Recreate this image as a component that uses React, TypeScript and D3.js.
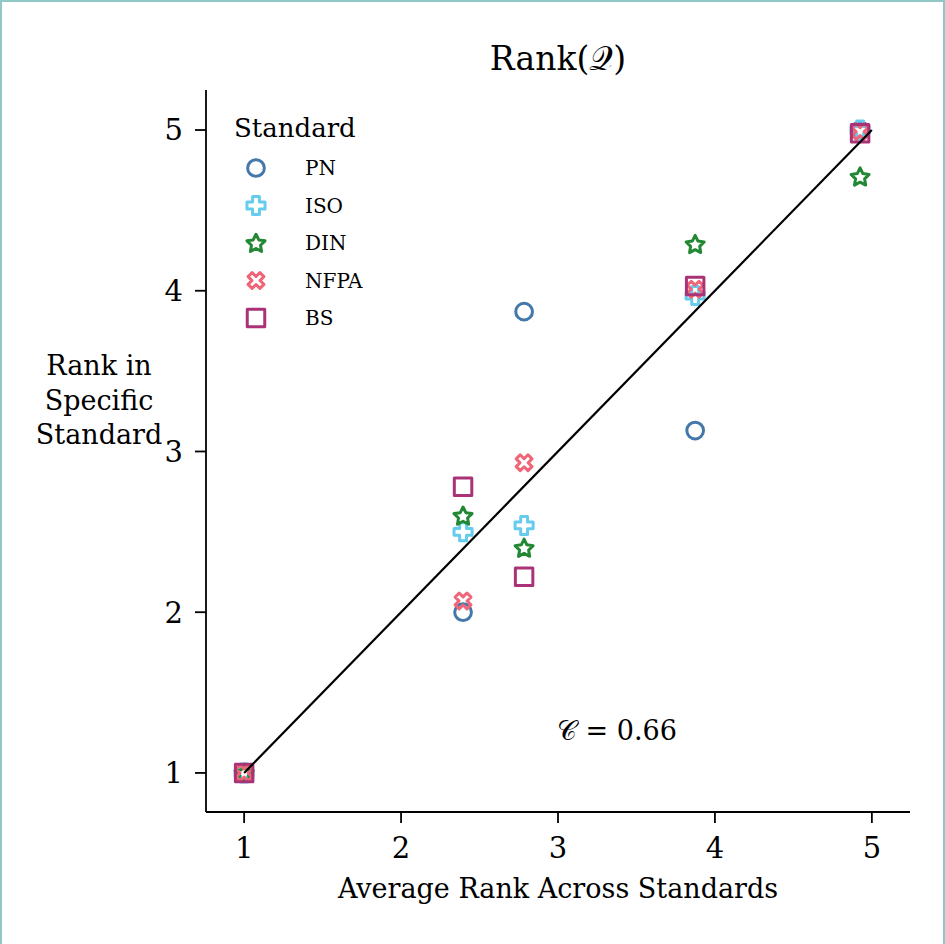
import React from "react";
import * as d3 from "d3";

const avgRank = [1, 2.395, 2.784, 3.874, 4.925];
const standards = ["PN", "ISO", "DIN", "NFPA", "BS"];
const rankPN = [1, 2.0, 3.87, 3.13, 5.0];
const rankISO = [1, 2.5, 2.54, 3.97, 5.0];
const rankDIN = [1, 2.6, 2.4, 4.29, 4.71];
const rankNFPA = [1, 2.07, 2.93, 4.01, 4.99];
const rankBS = [1, 2.78, 2.22, 4.03, 4.98];
const xTicks = [1, 2, 3, 4, 5];
const yTicks = [1, 2, 3, 4, 5];
const corr = "0.66";

const colors = ["#4477aa", "#66ccee", "#228833", "#ee6677", "#aa3377"];
const shapes = ["circle", "plus", "star", "x", "square"];
const series = [rankPN, rankISO, rankDIN, rankNFPA, rankBS];

const FONT = "'DejaVu Serif', serif";

function markerPath(shape: string, s: number): string {
  if (shape === "circle") {
    const p = d3.path();
    p.arc(0, 0, s * 0.88, 0, Math.PI * 2);
    return p.toString();
  }
  if (shape === "square") {
    const h = s * 0.92;
    return `M${-h},${-h}H${h}V${h}H${-h}Z`;
  }
  if (shape === "plus") {
    const a = s * 0.95, w = s * 0.36;
    return `M${-w},${-a}H${w}V${-w}H${a}V${w}H${w}V${a}H${-w}V${w}H${-a}V${-w}H${-w}Z`;
  }
  if (shape === "x") {
    const a = s * 0.88, w = s * 0.3;
    const pts: [number, number][] = [];
    const plus: [number, number][] = [
      [-w, -a], [w, -a], [w, -w], [a, -w], [a, w], [w, w], [w, a], [-w, a], [-w, w], [-a, w], [-a, -w], [-w, -w],
    ];
    const c = Math.cos(Math.PI / 4), sn = Math.sin(Math.PI / 4);
    for (const [px, py] of plus) pts.push([px * c - py * sn, px * sn + py * c]);
    return "M" + pts.map((p) => p.join(",")).join("L") + "Z";
  }
  if (shape === "star") {
    const R = s * 1.0, r = R * 0.5;
    const pts: string[] = [];
    for (let i = 0; i < 10; i++) {
      const ang = -Math.PI / 2 + (i * Math.PI) / 5;
      const rad = i % 2 === 0 ? R : r;
      pts.push(`${rad * Math.cos(ang)},${rad * Math.sin(ang) + s * 0.08}`);
    }
    return "M" + pts.join("L") + "Z";
  }
  return "";
}

export default function App() {
  const W = 945, H = 944;
  const x = d3.scaleLinear().domain([0.757, 5.243]).range([206, 910]);
  const y = d3.scaleLinear().domain([0.757, 5.249]).range([812, 90]);
  const ms = 9.5;
  const sw = 3;
  const line = d3.line<number>().x((d) => x(d)).y((d) => y(d));

  return (
    <svg width={W} height={H} style={{ position: "absolute", left: 0, top: 0, background: "#fff" }} fontFamily={FONT}>
      <rect x={0} y={0} width={W} height={H} fill="#fff" />
      <line x1={0} y1={1} x2={W} y2={1} stroke="#90c8c8" strokeWidth={2} />
      <line x1={1} y1={0} x2={1} y2={H} stroke="#90c8c8" strokeWidth={2} />
      <line x1={W - 1} y1={0} x2={W - 1} y2={H} stroke="#90c8c8" strokeWidth={2} />

      <line x1={x.range()[0]} y1={y.range()[0]} x2={x.range()[1]} y2={y.range()[0]} stroke="#000" strokeWidth={1.8} />
      <line x1={x.range()[0]} y1={y.range()[0]} x2={x.range()[0]} y2={y.range()[1]} stroke="#000" strokeWidth={1.8} />

      {xTicks.map((t) => (
        <g key={"xt" + t}>
          <line x1={x(t)} x2={x(t)} y1={y.range()[0]} y2={y.range()[0] + 11} stroke="#000" strokeWidth={1.8} />
          <text x={x(t)} y={858} textAnchor="middle" fontSize={29}>{t}</text>
        </g>
      ))}
      {yTicks.map((t) => (
        <g key={"yt" + t}>
          <line x1={x.range()[0] - 11} x2={x.range()[0]} y1={y(t)} y2={y(t)} stroke="#000" strokeWidth={1.8} />
          <text x={183} y={y(t)} dy="0.36em" textAnchor="end" fontSize={29}>{t}</text>
        </g>
      ))}

      {series.map((vals, si) => (
        <g key={"s" + si}>
          {vals.map((v, i) => (
            <path key={i} d={markerPath(shapes[si], ms)} transform={`translate(${x(avgRank[i])},${y(v)})`}
              fill="none" stroke={colors[si]} strokeWidth={sw} strokeLinejoin="round" />
          ))}
        </g>
      ))}

      <path d={line([1, 5]) || ""} stroke="#000" strokeWidth={2.2} fill="none" />

      <text x={558} y={70} textAnchor="middle" fontSize={33}>Rank(<tspan>𝒬</tspan>)</text>

      <text x={617} y={740} textAnchor="middle" fontSize={27}>𝒞 = {corr}</text>

      <text x={558} y={898} textAnchor="middle" fontSize={27}>Average Rank Across Standards</text>
      <text x={99} y={375} textAnchor="middle" fontSize={27}>
        <tspan x={99} y={375}>Rank in</tspan>
        <tspan x={99} y={410}>Specific</tspan>
        <tspan x={99} y={444}>Standard</tspan>
      </text>

      <text x={234} y={137} fontSize={26}>Standard</text>
      {standards.map((s, i) => (
        <g key={"lg" + s} transform={`translate(0,${168 + i * 37.5})`}>
          <path d={markerPath(shapes[i], ms)} transform="translate(256,0)" fill="none" stroke={colors[i]} strokeWidth={sw} strokeLinejoin="round" />
          <text x={305} y={0} dy="0.36em" fontSize={20}>{s}</text>
        </g>
      ))}
    </svg>
  );
}
